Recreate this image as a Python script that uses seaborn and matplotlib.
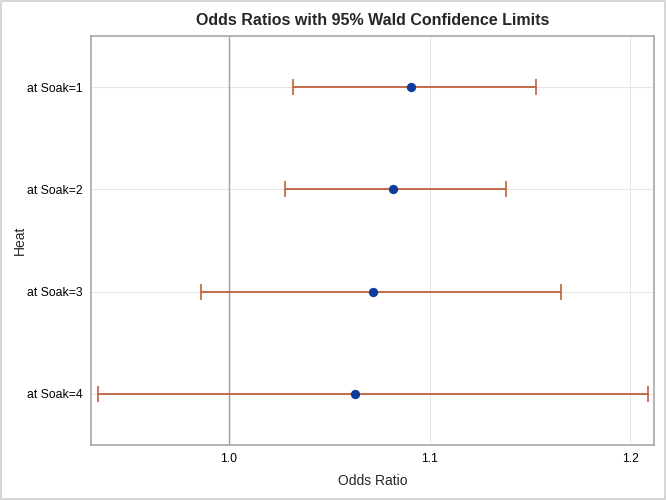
import matplotlib
matplotlib.use('Agg')
import matplotlib.pyplot as plt
import seaborn as sns
import pandas as pd

# values
labels = ['at Soak=1', 'at Soak=2', 'at Soak=3', 'at Soak=4']
odds = [1.0905, 1.0818, 1.0718, 1.0627]
lower = [1.0318, 1.0279, 0.9861, 0.9350]
upper = [1.1532, 1.1380, 1.1657, 1.2087]
xticks = [1.0, 1.1, 1.2]

df = pd.DataFrame({'label': labels, 'odds': odds, 'lower': lower, 'upper': upper})
df['pos'] = range(len(df))

sns.set_style('white')
plt.rcParams['font.family'] = ['Liberation Sans', 'DejaVu Sans']

fig = plt.figure(figsize=(6.66, 5), dpi=100)
ax = fig.add_axes([0.1366, 0.11, 0.8454, 0.818])

# reference line at odds ratio 1
ax.axvline(1.0, color='#a0a0a0', lw=1, zorder=1)

# confidence limits
ax.errorbar(df['odds'], df['pos'],
            xerr=[df['odds'] - df['lower'], df['upper'] - df['odds']],
            fmt='none', ecolor='#c0603a', elinewidth=1.3, capsize=6, capthick=1.2, zorder=2)

sns.scatterplot(data=df, x='odds', y='pos', ax=ax, color='#0d3b9e', s=45,
                edgecolor='#0d3b9e', linewidth=0, zorder=3)

ax.set_xlim(0.9313, 1.2118)
ax.set_ylim(3.5, -0.5)
ax.set_yticks(df['pos'])
ax.set_yticklabels(labels)
ax.set_xticks(xticks)
ax.set_xticklabels([f'{t:.1f}' for t in xticks])
ax.grid(True, color='#e6e6e6', lw=0.8)
ax.set_axisbelow(True)
ax.tick_params(axis='both', labelsize=8.8, length=0, pad=6, colors='black')
for sp in ax.spines.values():
    sp.set_color('#a8a8a8')
    sp.set_linewidth(1.2)

ax.set_xlabel('Odds Ratio', fontsize=10, labelpad=6)
ax.set_ylabel('Heat', fontsize=10)
ax.yaxis.set_label_coords(-0.113, 0.5)
ax.set_title('Odds Ratios with 95% Wald Confidence Limits', fontsize=11.5, fontweight='bold', pad=8)

# outer light border
fig.patches.append(plt.Rectangle((0.0015, 0.002), 0.997, 0.996, transform=fig.transFigure,
                                 fill=False, edgecolor='#d0d0d0', lw=1.2))

fig.savefig('out.png', dpi=100)
